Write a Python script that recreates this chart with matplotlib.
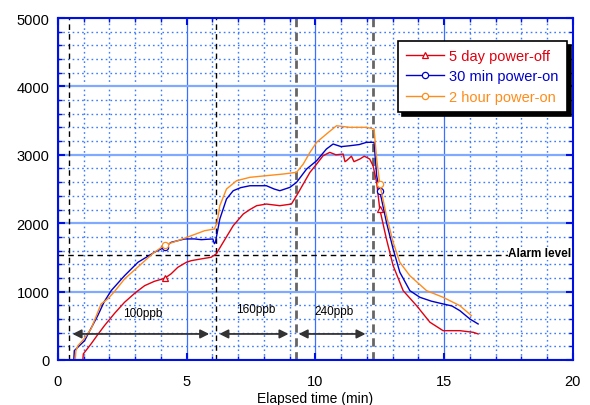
import matplotlib.pyplot as plt
from matplotlib.ticker import MultipleLocator
import numpy as np

plt.rcParams['font.family'] = ['Liberation Sans', 'DejaVu Sans']

# 5 day power-off
t_red = [0, 0.97, 0.99, 1.29, 1.55, 1.81, 2.2, 2.59, 3.0, 3.37, 3.75, 4.15, 4.4, 4.66, 5.0,
         5.18, 5.6, 5.95, 6.15, 6.42, 6.81, 7.2, 7.46, 7.72, 8.1, 8.62, 9.07, 9.27, 9.53,
         9.79, 10.05, 10.3, 10.56, 10.8, 11.08, 11.15, 11.21, 11.4, 11.5, 11.73, 11.9,
         12.11, 12.24, 12.38, 12.5, 12.76, 13.02, 13.41, 13.93, 14.45, 14.96, 15.61,
         16.13, 16.32]
y_red = [0, 0, 88, 234, 370, 501, 680, 843, 980, 1086, 1150, 1194, 1260, 1355, 1430,
         1452, 1480, 1501, 1550, 1720, 1963, 2134, 2200, 2256, 2280, 2256, 2280, 2402, 2573,
         2744, 2865, 2987, 3036, 3000, 3011, 2900, 2914, 2980, 2900, 2939, 2980,
         2939, 2841, 2597, 2208, 1769, 1379, 1013, 794, 551, 428, 428,
         404, 380]

# 30 min power-on
t_blue = [0, 0.62, 0.64, 1.04, 1.3, 1.55, 1.8, 2.07, 2.59, 3.11, 3.75, 4.15, 4.4, 4.92,
          5.3, 5.57, 5.8, 6.02, 6.08, 6.12, 6.29, 6.55, 6.81, 7.1, 7.46, 8.1, 8.4, 8.62,
          9.01, 9.27, 9.66, 10.05, 10.43, 10.69, 11.0, 11.34, 11.7, 11.99, 12.28, 12.38,
          12.5, 12.76, 13.02, 13.28, 13.67, 14.06, 14.5, 14.96, 15.3, 15.61, 16.0, 16.32]
y_blue = [0, 0, 136, 282, 470, 648, 850, 1013, 1232, 1428, 1574, 1650, 1720, 1769,
          1770, 1759, 1765, 1769, 1700, 1720, 2061, 2354, 2475, 2520, 2548, 2548, 2500, 2475,
          2524, 2597, 2792, 2914, 3085, 3158, 3120, 3133, 3150, 3183, 3183, 2695,
          2475, 2013, 1623, 1282, 1013, 916, 860, 819, 790, 721, 599, 526]

# 2 hour power-on
t_orange = [0, 0.68, 0.7, 0.78, 1.0, 1.29, 1.5, 1.68, 1.94, 2.2, 2.59, 3.24, 3.7, 4.15,
            4.66, 5.18, 5.7, 6.08, 6.18, 6.29, 6.55, 6.94, 7.46, 8.1, 8.75, 9.27, 9.53,
            9.79, 10.05, 10.43, 10.82, 11.34, 11.99, 12.28, 12.38, 12.5, 12.76, 13.02,
            13.28, 13.67, 14.32, 14.96, 15.61, 16.06]
y_orange = [0, 0, 130, 210, 300, 453, 650, 819, 892, 1000, 1184, 1404, 1560, 1681,
            1744, 1817, 1890, 1915, 2000, 2256, 2500, 2621, 2671, 2695, 2719, 2744, 2865,
            3036, 3183, 3304, 3425, 3402, 3402, 3377, 2939, 2573, 2110, 1720,
            1428, 1232, 1013, 916, 794, 648]

marker_times = [4.15, 12.5]

alarm_level = 1530
step_marks = [0.45, 6.15, 9.23, 12.22]
step_labels = ['100ppb', '160ppb', '240ppb']
arrow_y = 380
label_y = [690, 745, 720]

fig = plt.figure(figsize=(5.9, 4.06), dpi=100)
ax = fig.add_axes([0.098, 0.111, 0.873, 0.842])

ax.set_xlim(0, 20)
ax.set_ylim(0, 5000)
ax.xaxis.set_major_locator(MultipleLocator(5))
ax.xaxis.set_minor_locator(MultipleLocator(1))
ax.yaxis.set_major_locator(MultipleLocator(1000))
ax.yaxis.set_minor_locator(MultipleLocator(200))

ax.grid(which='minor', axis='both', color='#3d7bff', linestyle=(0, (1.2, 2.2)), linewidth=1.0)
ax.grid(which='major', axis='x', color='#3a70ff', linestyle='-', linewidth=0.9)
ax.grid(which='major', axis='y', color='#80aaff', linestyle='-', linewidth=1.6)
ax.set_axisbelow(True)

for s in ax.spines.values():
    s.set_color('#0010e0')
    s.set_linewidth(1.5)
ax.tick_params(which='both', direction='in', top=True, right=True, color='#0010e0',
               labelsize=10.5, labelcolor='black')
ax.tick_params(which='major', length=5, width=1.5)
ax.tick_params(which='minor', length=3, width=1.0)
ax.tick_params(axis='x', pad=10)
ax.tick_params(axis='y', pad=6)

# step change markers
ax.axvline(step_marks[0], color='black', linestyle=(0, (4, 3)), linewidth=1.0)
ax.axvline(step_marks[1], color='black', linestyle=(0, (4, 3)), linewidth=1.0)
ax.axvline(step_marks[2], color='#666666', linestyle=(0, (3, 2)), linewidth=2.0)
ax.axvline(step_marks[3], color='#666666', linestyle=(0, (3, 2)), linewidth=2.0)
ax.axhline(alarm_level, color='black', linestyle=(0, (4, 3)), linewidth=1.0)
ax.text(19.95, alarm_level + 30, 'Alarm level', fontsize=8.5, fontweight='bold',
        ha='right', va='center', bbox=dict(facecolor='white', edgecolor='none', pad=0.5))

series = [
    (t_red, y_red, '#e00010', '^', '5 day power-off'),
    (t_blue, y_blue, '#0000cc', 'o', '30 min power-on'),
    (t_orange, y_orange, '#ff8c1a', 'o', '2 hour power-on'),
]
for t, y, c, m, lab in series:
    t = np.array(t)
    idx = [int(np.argmin(np.abs(t - mt))) for mt in marker_times]
    ax.plot(t, y, color=c, linewidth=1.0, marker=m, markersize=5 if m == '^' else 4.5,
            markerfacecolor='white', markeredgecolor=c, markeredgewidth=0.9,
            markevery=idx, label=lab)

for i, lab in enumerate(step_labels):
    ax.annotate('', xy=(step_marks[i] + 0.12, arrow_y), xytext=(step_marks[i + 1] - 0.27, arrow_y),
                arrowprops=dict(arrowstyle='<|-|>', color='#333333', lw=1.3,
                                mutation_scale=13, shrinkA=0, shrinkB=0))
    ax.text((step_marks[i] + step_marks[i + 1]) / 2, label_y[i], lab, fontsize=8.5,
            ha='center', va='center')

leg = ax.legend(loc='upper right', bbox_to_anchor=(0.988, 0.934), borderaxespad=0,
                fontsize=10.5, labelcolor='linecolor', fancybox=False, framealpha=1,
                edgecolor='black', handlelength=2.6, handletextpad=0.35,
                borderpad=0.55, labelspacing=0.45,
                shadow={'color': 'black', 'alpha': 1, 'ox': 3, 'oy': -3})
leg.get_frame().set_linewidth(1.2)

ax.set_xlabel('Elapsed time (min)', fontsize=10, labelpad=2)

fig.savefig('out.png', dpi=100)
